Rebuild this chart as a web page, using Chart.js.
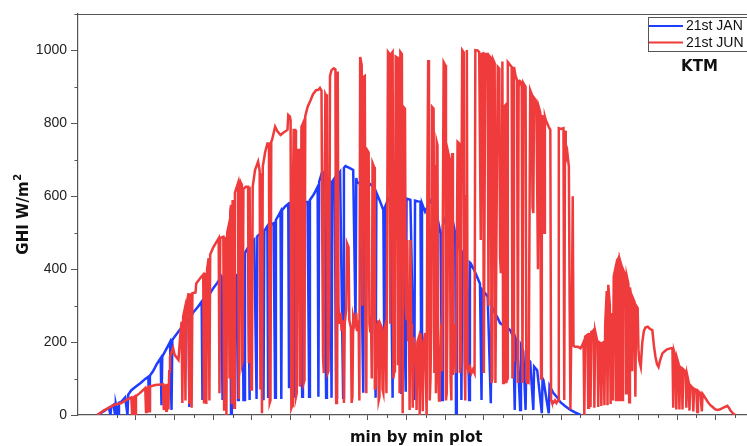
<!DOCTYPE html>
<html>
<head>
<meta charset="utf-8">
<script src="https://cdn.jsdelivr.net/npm/chart.js@4.4.1/dist/chart.umd.min.js"></script>
<style>
  html, body { margin: 0; padding: 0; background: #fff; overflow: hidden; }
  #wrap { width: 760px; height: 446px; }
</style>
</head>
<body>
<div id="wrap"><canvas id="ghi" width="760" height="446"></canvas></div>
<script>
// minute of day since sunrise -> GHI (W/m2)
const janMin = [
  0, 8, 15, 17, 18, 21, 23, 24, 27, 28,
  31, 36, 39, 40, 44, 50, 56, 62, 66, 67,
  68, 72, 77, 82, 83, 84, 88, 94, 96, 97,
  100, 105, 112, 118, 119, 120, 124, 130, 135, 136,
  137, 141, 146, 150, 155, 160, 162, 163, 167, 172,
  173, 174, 178, 180, 182, 183, 185, 188, 189, 190,
  191, 195, 197, 198, 203, 206, 207, 211, 214, 215,
  216, 220, 221, 222, 228, 230, 231, 235, 237, 238,
  239, 243, 247, 248, 249, 255, 256, 257, 258, 263,
  265, 266, 272, 274, 275, 280, 285, 286, 287, 291,
  293, 296, 297, 301, 303, 304, 307, 309, 310, 314,
  318, 319, 321, 326, 331, 334, 335, 336, 340, 344,
  345, 349, 353, 357, 360, 361, 365, 370, 371, 372,
  376, 379, 382, 383, 388, 393, 394, 399, 400, 405,
  410, 411, 415, 418, 419, 420, 424, 428, 432, 435,
  440, 444, 446, 447, 452, 457, 460, 463, 464, 465,
  470, 471, 472, 474, 478, 481, 482, 483, 488, 492,
  495, 497, 498, 502, 505, 509, 510, 512, 517, 521,
  526, 530, 534, 538, 540, 541, 543, 547, 548, 551,
  554, 555, 556, 560, 564, 565, 569, 575, 576, 577,
  584, 585, 590, 595, 599, 605, 612, 618, 625
];
const janGhi = [
  0, 10, 20, 0, 23, 28, 0, 30, 0, 34,
  36, 48, 0, 56, 68, 78, 88, 99, 105, 14,
  108, 120, 140, 156, 27, 160, 176, 200, 14, 206,
  215, 229, 248, 265, 22, 268, 281, 296, 311, 41,
  316, 322, 334, 348, 362, 378, 41, 378, 380, 381,
  0, 381, 383, 384, 41, 410, 434, 440, 41, 41,
  445, 460, 41, 465, 480, 44, 490, 498, 44, 44,
  505, 518, 50, 520, 526, 47, 535, 550, 558, 44,
  562, 572, 579, 77, 580, 582, 47, 47, 582, 584,
  50, 584, 585, 50, 590, 605, 626, 50, 640, 668,
  660, 47, 650, 642, 47, 640, 650, 47, 655, 667,
  47, 678, 683, 678, 672, 252, 650, 636, 638, 61,
  640, 640, 633, 626, 47, 610, 590, 562, 233, 570,
  590, 600, 47, 600, 598, 61, 596, 64, 594, 590,
  41, 588, 586, 585, 118, 580, 558, 575, 590, 599,
  540, 498, 41, 520, 550, 571, 530, 498, 5, 480,
  450, 41, 445, 434, 425, 41, 418, 416, 395, 375,
  360, 41, 343, 333, 325, 32, 300, 288, 270, 252,
  245, 240, 233, 215, 14, 210, 197, 14, 190, 175,
  14, 160, 156, 146, 14, 133, 123, 5, 100, 96,
  5, 80, 60, 48, 35, 25, 14, 7, 0
];

const junMin = [
  0, 8, 14, 22, 26, 31, 40, 44, 45, 46,
  48, 49, 50, 55, 62, 63, 64, 66, 67, 68,
  75, 85, 86, 87, 89, 90, 92, 93, 94, 98,
  100, 105, 107, 109, 110, 111, 113, 114, 115, 118,
  119, 120, 122, 123, 127, 128, 133, 137, 138, 139,
  141, 142, 144, 145, 146, 150, 157, 158, 159, 163,
  164, 165, 167, 168, 170, 171, 172, 173, 174, 175,
  177, 178, 182, 183, 184,
  185, 186, 187, 188, 189, 192, 195, 196, 197, 199,
  200, 201, 204, 208, 210, 211, 212, 213, 214, 217,
  220, 222, 223, 224, 225, 226, 230, 233, 237, 241,
  246, 247, 249, 250, 251, 252, 253, 254, 256, 257,
  258, 259, 261, 262, 263, 264, 266, 267, 268, 269,
  272, 276, 279, 283, 286, 288, 290, 291, 292, 293,
  294, 295, 296, 297, 298, 299, 300, 301, 303, 306,
  308, 309, 310, 311, 312, 313, 315, 316, 318, 319,
  320, 322, 323, 325, 326, 328, 329, 330, 331, 333,
  335, 336, 338, 339, 340, 342, 343, 344, 346, 347,
  348, 349, 351, 352, 353, 354, 355, 356, 358, 359,
  360, 361, 362, 363, 364, 365, 366, 368, 369, 370,
  371, 373, 374, 376, 378, 379, 380, 382, 383, 384,
  385, 386, 388, 389, 390, 391, 392, 394, 395, 396,
  398, 399, 400, 401, 402, 403, 404, 405, 406, 407,
  408, 409, 411, 412, 413, 414, 416, 417, 418, 420,
  421, 422, 424, 426, 427, 428, 429, 430, 431, 432,
  433, 435, 436, 437, 438, 439, 440, 441, 442, 443,
  445, 446, 448, 450, 451, 452, 453, 454, 456, 457,
  458, 459, 460, 462, 464, 466, 468, 469, 470, 472,
  474, 475, 476, 477, 478, 479, 480, 482, 484, 486,
  488, 489, 492, 494, 496, 497, 499, 500, 501, 502,
  505, 506, 507, 509, 510, 511, 512, 514, 515, 516,
  518, 520, 521, 522, 523, 524, 525, 526, 528, 529,
  530, 531, 534, 536, 537, 538, 539, 541, 543, 544,
  545, 547, 549, 550, 551, 554, 555, 556, 557, 558,
  560, 562, 563, 564, 565, 567, 568, 570, 571, 573,
  574, 575, 577, 578, 579, 580, 582, 584, 586, 587,
  588, 590, 592, 594, 596, 597, 600, 603, 604, 605,
  606, 608, 610, 611, 612, 613, 614, 615, 616, 618,
  622, 625, 627, 629,
  630, 631, 634, 635, 636, 638, 639, 641, 642, 643,
  644, 646, 647, 648, 649, 651, 652, 653, 655, 656,
  657, 659, 660, 661, 663, 664, 665, 667, 668, 670,
  671, 672, 674, 675, 676, 678, 679, 680, 683, 684,
  685, 687, 688, 689, 690, 692, 693, 695, 696, 697,
  699, 700, 701, 703, 705, 707, 709, 712, 714, 716,
  718, 720, 722, 724, 726, 728, 731, 734, 737, 740,
  742, 744, 745, 746, 748, 749, 750, 752, 753, 754,
  756, 757, 758, 761, 762, 763, 765, 766, 767, 770,
  771, 772, 775, 776, 777, 780, 782, 783, 784, 787,
  790, 793, 796, 799, 802, 805, 808, 812, 815, 817,
  819, 822, 825
];
const junGhi = [
  0, 12, 19, 28, 30, 33, 44, 48, 0, 46,
  50, 3, 52, 60, 74, 8, 72, 76, 10, 78,
  82, 84, 14, 84, 12, 86, 15, 120, 160, 184,
  165, 151, 210, 256, 33, 270, 290, 40, 300, 334,
  30, 334, 20, 334, 336, 361, 375, 385, 35, 390,
  30, 400, 430, 40, 440, 460, 485, 60, 486, 489,
  15, 489, 0, 500, 520, 100, 560, 576, 30, 590,
  20, 610, 636, 44, 630,
  640, 635, 140, 150, 620, 626, 626, 142, 626, 70,
  80, 626, 672, 695, 670, 70, 663, 5, 681, 720,
  745, 745, 33, 40, 750, 754, 791, 778, 768, 775,
  782, 823, 819, 809, 19, 25, 600, 782, 782, 50,
  60, 727, 727, 78, 90, 790, 800, 88, 95, 820,
  845, 864, 880, 891, 892, 897, 890, 480, 160, 115,
  600, 880, 875, 880, 115, 120, 300, 930, 946, 951,
  948, 33, 40, 942, 300, 250, 280, 230, 260, 33,
  250, 290, 471, 460, 260, 240, 33, 50, 270, 250,
  280, 230, 260, 40, 982, 960, 300, 927, 930, 250,
  60, 727, 720, 250, 230, 270, 100, 691, 680, 69,
  80, 250, 230, 260, 40, 50, 250, 240, 69, 60,
  230, 250, 60, 996, 990, 250, 990, 996, 100, 120,
  260, 983, 980, 140, 983, 60, 996, 990, 5, 845,
  840, 300, 260, 480, 206, 300, 14, 480, 250, 210,
  20, 214, 180, 142, 14, 200, 214, 0, 225, 150,
  10, 200, 225, 0, 636, 974, 600, 40, 100, 250,
  845, 840, 115, 686, 60, 749, 740, 115, 40, 100,
  250, 120, 968, 960, 40, 60, 300, 719, 700, 100,
  40, 719, 110, 250, 115, 749, 745, 115, 140, 1001,
  995, 150, 40, 600, 1001, 132, 120, 132, 115, 125,
  115, 1001, 1000, 995, 480, 990, 992, 115, 600, 990,
  990, 300, 985, 980, 88, 100, 975, 965, 88, 400,
  955, 950, 433, 389, 420, 970, 88, 845, 850, 88,
  100, 968, 960, 955, 100, 150, 955, 930, 919, 88,
  900, 915, 911, 88, 911, 900, 100, 88, 120, 110,
  891, 880, 571, 554, 870, 864, 856, 400, 845, 830,
  100, 820, 818, 500, 818, 810, 800, 790, 782, 41,
  35, 33, 40, 33, 40, 787, 785, 787, 41, 780,
  700, 720, 681, 300, 15, 200, 315, 600, 190, 187,
  187, 183, 190, 200,
  0, 215, 220, 20, 225, 22, 228, 230, 233, 20,
  230, 210, 197, 22, 200, 197, 25, 197, 200, 27,
  250, 340, 27, 357, 300, 30, 280, 40, 380, 400,
  41, 420, 430, 41, 425, 410, 41, 400, 384, 60,
  380, 360, 35, 350, 334, 120, 320, 310, 50, 300,
  293, 180, 150, 132, 200, 230, 240, 242, 238, 235,
  233, 190, 160, 140, 132, 150, 169, 175, 180, 182,
  183, 183, 20, 175, 160, 15, 155, 140, 15, 132,
  128, 15, 125, 119, 20, 110, 90, 12, 82, 75,
  10, 72, 68, 8, 66, 60, 10, 58, 55, 45,
  35, 27, 22, 16, 14, 15, 18, 22, 25, 20,
  12, 5, 0
];

const seriesNames = ['21st JAN', '21st JUN'];
const seriesColors = ['#1f3dff', '#ef3b3b'];
const yTickLabels = [0, 200, 400, 600, 800, 1000];

const toPoints = (xs, ys) => xs.map((x, i) => ({ x: x, y: ys[i] }));

const AXIS = '#555';

const decorations = {
  id: 'decorations',
  afterDraw(chart) {
    const { ctx, chartArea: a, scales } = chart;
    ctx.save();
    ctx.strokeStyle = AXIS;
    ctx.lineWidth = 1.2;

    // frame top and right
    ctx.beginPath();
    ctx.moveTo(a.left, a.top + 0.5);
    ctx.lineTo(a.right, a.top + 0.5);
    ctx.lineTo(a.right, a.bottom);
    ctx.stroke();

    // minor ticks
    ctx.lineWidth = 1;
    ctx.beginPath();
    for (let v = 100; v <= 1100; v += 200) {
      const y = Math.round(scales.y.getPixelForValue(v)) + 0.5;
      ctx.moveTo(a.left - 3.5, y);
      ctx.lineTo(a.left, y);
    }
    for (let v = 25; v <= 850; v += 50) {
      const x = Math.round(scales.x.getPixelForValue(v)) + 0.5;
      ctx.moveTo(x, a.bottom);
      ctx.lineTo(x, a.bottom + 3);
    }
    ctx.stroke();

    // axis titles
    ctx.fillStyle = '#111';
    ctx.textBaseline = 'alphabetic';
    ctx.font = 'bold 15px "DejaVu Sans"';
    ctx.textAlign = 'center';
    ctx.fillText('min by min plot', (a.left + a.right) / 2, 442);

    ctx.save();
    ctx.translate(28, (a.top + a.bottom) / 2);
    ctx.rotate(-Math.PI / 2);
    const main = 'GHI W/m';
    const wMain = ctx.measureText(main).width;
    ctx.font = 'bold 10px "DejaVu Sans"';
    const wSup = ctx.measureText('2').width;
    const x0 = -(wMain + wSup) / 2;
    ctx.textAlign = 'left';
    ctx.font = 'bold 15px "DejaVu Sans"';
    ctx.fillText(main, x0, 0);
    ctx.font = 'bold 10px "DejaVu Sans"';
    ctx.fillText('2', x0 + wMain + 0.5, -7);
    ctx.restore();

    // legend box
    ctx.strokeStyle = AXIS;
    ctx.lineWidth = 1;
    ctx.strokeRect(648.5, 17.5, 110, 34);
    ctx.font = '14px "Liberation Sans", Arial';
    ctx.textAlign = 'left';
    ctx.textBaseline = 'middle';
    const rows = [26, 42.5];
    seriesNames.forEach((name, i) => {
      ctx.strokeStyle = seriesColors[i];
      ctx.lineWidth = 2;
      ctx.beginPath();
      ctx.moveTo(649, rows[i]);
      ctx.lineTo(683, rows[i]);
      ctx.stroke();
      ctx.fillStyle = '#111';
      ctx.fillText(name, 686, rows[i] + 0.5);
    });

    ctx.font = 'bold 15px "DejaVu Sans"';
    ctx.textAlign = 'center';
    ctx.fillText('KTM', 699.5, 67);
    ctx.restore();
  }
};

new Chart(document.getElementById('ghi'), {
  type: 'line',
  data: {
    datasets: [
      {
        label: seriesNames[0],
        data: toPoints(janMin, janGhi),
        borderColor: seriesColors[0],
        borderWidth: 2.5,
        pointRadius: 0,
        tension: 0,
        order: 1
      },
      {
        label: seriesNames[1],
        data: toPoints(junMin, junGhi),
        borderColor: seriesColors[1],
        borderWidth: 2.5,
        pointRadius: 0,
        tension: 0,
        order: 0
      }
    ]
  },
  options: {
    responsive: false,
    animation: false,
    layout: { padding: { top: 14, right: 5.6, left: 0, bottom: 0 } },
    plugins: {
      legend: { display: false },
      tooltip: { enabled: false }
    },
    scales: {
      x: {
        type: 'linear',
        min: -25,
        max: 850,
        afterFit: s => { s.height = 31; },
        ticks: { display: false, stepSize: 50 },
        border: { color: AXIS, width: 1.2 },
        grid: {
          drawOnChartArea: false,
          tickLength: 5,
          color: c => (c.tick && c.tick.value >= 0 ? AXIS : 'rgba(0,0,0,0)')
        }
      },
      y: {
        min: 0,
        max: 1100,
        afterFit: s => { s.width = 78; },
        afterBuildTicks: s => { s.ticks = yTickLabels.map(v => ({ value: v })); },
        ticks: {
          padding: 4,
          color: '#222',
          font: { family: '"Liberation Sans", Arial', size: 14 },
          callback: v => String(v)
        },
        border: { color: AXIS, width: 1.2 },
        grid: {
          drawOnChartArea: false,
          tickLength: 7,
          color: AXIS
        }
      }
    }
  },
  plugins: [decorations]
});
</script>
</body>
</html>
